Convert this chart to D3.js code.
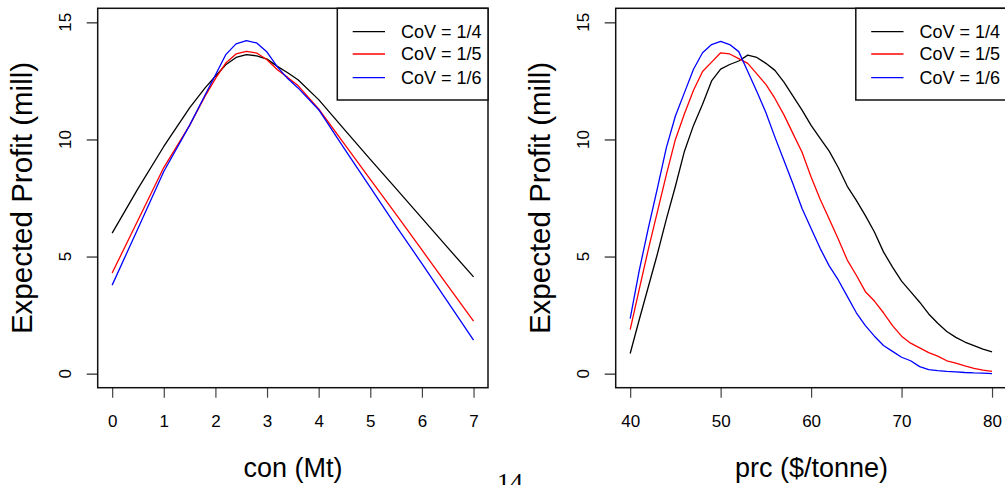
<!DOCTYPE html>
<html>
<head>
<meta charset="utf-8">
<script src="https://cdn.jsdelivr.net/npm/d3@7"></script>
<style>
  body { margin: 0; background: #fff; }
  svg { display: block; font-family: "Liberation Sans", Arial, sans-serif; }
</style>
</head>
<body>
<div id="chart"></div>
<script>
// data
var covLabels = ["CoV = 1/4", "CoV = 1/5", "CoV = 1/6"];
var covColors = ["#000000", "#ff0000", "#0000ff"];

var con = [0, 0.5, 1, 1.5, 1.8, 2.0, 2.2, 2.4, 2.6, 2.8, 3.0, 3.2, 3.4, 3.6, 4, 4.5, 5, 5.5, 6, 6.5, 7];
var conCov4 = [6.0, 7.9, 9.7, 11.35, 12.2, 12.7, 13.19, 13.5, 13.62, 13.57, 13.43, 13.12, 12.85, 12.55, 11.7, 10.42, 9.15, 7.9, 6.64, 5.38, 4.13];
var conCov5 = [4.3, 6.55, 8.8, 10.6, 11.85, 12.6, 13.26, 13.65, 13.76, 13.69, 13.4, 12.98, 12.65, 12.3, 11.3, 9.8, 8.3, 6.8, 5.28, 3.76, 2.24];
var conCov6 = [3.78, 6.2, 8.63, 10.6, 11.9, 12.75, 13.62, 14.08, 14.22, 14.12, 13.73, 13.1, 12.6, 12.2, 11.27, 9.6, 7.95, 6.3, 4.7, 3.06, 1.43];

var prc = d3.range(40, 81);
var prcCov4 = [0.86, 2.3, 3.7, 5.1, 6.6, 8.0, 9.5, 10.6, 11.5, 12.5, 13.0, 13.2, 13.35, 13.6, 13.5, 13.25, 12.95, 12.45, 11.85, 11.25,
  10.6, 10.05, 9.5, 8.8, 8.0, 7.4, 6.75, 6.05, 5.2, 4.55, 3.95, 3.5, 3.05, 2.55, 2.15, 1.8, 1.55, 1.35, 1.2, 1.05, 0.93];
var prcCov5 = [1.88, 3.6, 5.3, 6.9, 8.5, 10.0, 11.1, 12.1, 12.9, 13.3, 13.7, 13.65, 13.45, 13.25, 12.8, 12.35, 11.75, 11.05, 10.25, 9.45,
  8.4, 7.45, 6.6, 5.75, 4.85, 4.2, 3.5, 3.1, 2.6, 2.05, 1.6, 1.3, 1.1, 0.9, 0.75, 0.55, 0.45, 0.33, 0.23, 0.15, 0.1];
var prcCov6 = [2.35, 4.4, 6.2, 7.9, 9.65, 11.0, 12.0, 13.0, 13.7, 14.05, 14.19, 14.05, 13.75, 12.9, 12.05, 11.15, 10.1, 9.1, 8.1, 7.05,
  6.2, 5.35, 4.6, 4.0, 3.3, 2.6, 2.05, 1.6, 1.2, 0.95, 0.7, 0.55, 0.3, 0.17, 0.13, 0.1, 0.08, 0.05, 0.03, 0.02, 0.0];

var conTicks = [0, 1, 2, 3, 4, 5, 6, 7];
var prcTicks = [40, 50, 60, 70, 80];
var yTicks = [0, 5, 10, 15];

var svgWidth = 1005;
var svgHeight = 485;

var svg = d3.select("#chart")
  .append("svg")
  .attr("width", svgWidth)
  .attr("height", svgHeight);

var plotTop = 8.3, plotBottom = 387.7;

function drawPanel(left, right, xs, series, xDomain, xTicks, xTitle, labX, titleX) {
  var pad = (xDomain[1] - xDomain[0]) * 0.04;
  var xScale = d3.scaleLinear()
    .domain([xDomain[0] - pad, xDomain[1] + pad])
    .range([left, right]);
  var yScale = d3.scaleLinear()
    .domain([-0.6, 15.6])
    .range([plotBottom, plotTop]);

  var g = svg.append("g");

  // axes, R style
  var xAxis = g.append("g")
    .attr("transform", `translate(0, ${plotBottom})`)
    .call(d3.axisBottom(xScale).tickValues(xTicks).tickSize(10).tickPadding(17).tickSizeOuter(0));
  xAxis.attr("font-size", null).attr("font-family", null);
  xAxis.select(".domain").remove();
  xAxis.selectAll("line").attr("stroke", "#444").attr("stroke-width", 1.2);
  xAxis.selectAll("text").attr("font-size", 17).attr("fill", "#000");

  var yAxis = g.append("g")
    .attr("transform", `translate(${left}, 0)`)
    .call(d3.axisLeft(yScale).tickValues(yTicks).tickSize(11).tickFormat(""));
  yAxis.select(".domain").remove();
  yAxis.selectAll("line").attr("stroke", "#222").attr("stroke-width", 1.2);

  g.selectAll(".ylab")
    .data(yTicks)
    .enter()
    .append("text")
    .attr("transform", d => `translate(${left - 27}, ${yScale(d)}) rotate(-90)`)
    .attr("text-anchor", "middle")
    .attr("font-size", 17)
    .text(d => d);

  var line = d3.line()
    .x((d, i) => xScale(xs[i]))
    .y(d => yScale(d));

  series.forEach(function (s, i) {
    g.append("path")
      .attr("d", line(s))
      .attr("fill", "none")
      .attr("stroke", covColors[i])
      .attr("stroke-width", 1.3)
      .attr("stroke-linejoin", "round");
  });

  g.append("rect")
    .attr("x", left)
    .attr("y", plotTop)
    .attr("width", right - left)
    .attr("height", plotBottom - plotTop)
    .attr("fill", "none")
    .attr("stroke", "#111")
    .attr("stroke-width", 1.5);

  // legend
  var lx = right - 150.7;
  var legend = g.append("g");
  legend.append("rect")
    .attr("x", lx)
    .attr("y", plotTop)
    .attr("width", 150.7)
    .attr("height", 100 - plotTop)
    .attr("fill", "#fff")
    .attr("stroke", "#111")
    .attr("stroke-width", 1.5);
  var rows = [31.7, 54, 77.7];
  covLabels.forEach(function (lab, i) {
    legend.append("line")
      .attr("x1", lx + 15.4)
      .attr("x2", lx + 47.7)
      .attr("y1", rows[i])
      .attr("y2", rows[i])
      .attr("stroke", covColors[i])
      .attr("stroke-width", 1.3);
    legend.append("text")
      .attr("x", lx + 63.7)
      .attr("y", rows[i])
      .attr("dy", "0.36em")
      .attr("font-size", 18)
      .text(lab);
  });

  g.append("text")
    .attr("x", titleX)
    .attr("y", 476.5)
    .attr("text-anchor", "middle")
    .attr("font-size", 27)
    .text(xTitle);

  g.append("text")
    .attr("transform", `translate(${labX}, ${(plotTop + plotBottom) / 2}) rotate(-90)`)
    .attr("text-anchor", "middle")
    .attr("font-size", 29.5)
    .text("Expected Profit (mill)");
}

drawPanel(97.7, 488, con, [conCov4, conCov5, conCov6], [0, 7], conTicks, "con (Mt)", 32, 293);
drawPanel(615.7, 1006.5, prc, [prcCov4, prcCov5, prcCov6], [40, 80], prcTicks, "prc ($/tonne)", 550, 811.5);

// page number peeking in at the bottom
svg.append("text")
  .attr("x", 510)
  .attr("y", 491)
  .attr("text-anchor", "middle")
  .attr("font-family", "Liberation Serif, Times New Roman, serif")
  .attr("font-size", 26)
  .text("14");
</script>
</body>
</html>
